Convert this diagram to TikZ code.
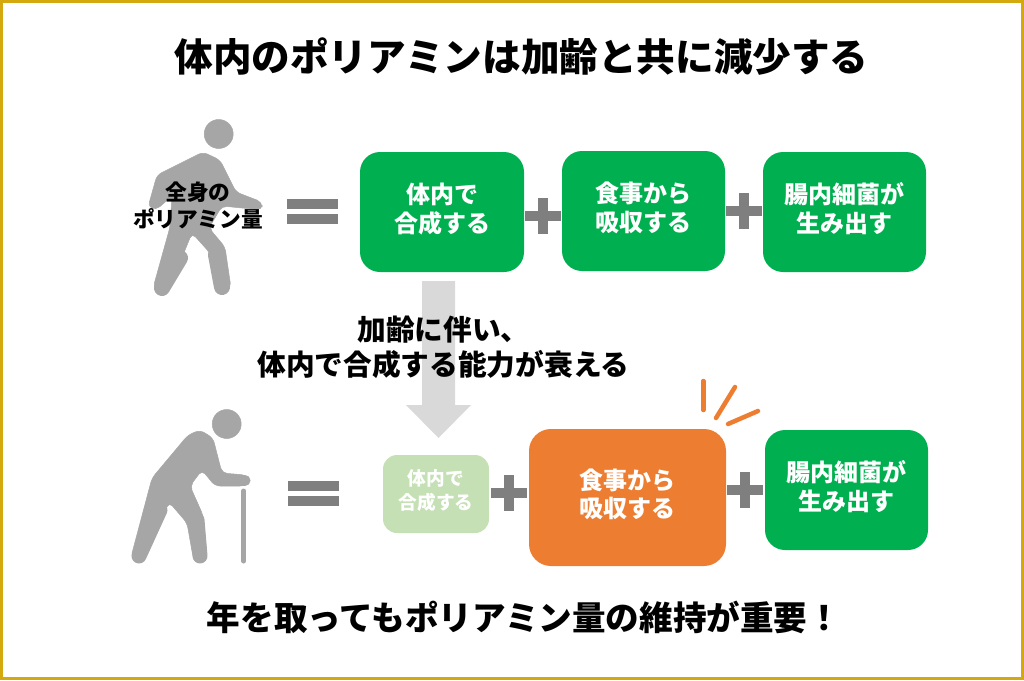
\documentclass[tikz,border=0pt]{standalone}
\usepackage{fontspec}
\newfontfamily\jp{Noto Sans CJK JP}
\definecolor{mangray}{HTML}{A6A6A6}
\definecolor{symgray}{HTML}{7F7F7F}
\definecolor{boxgreen}{HTML}{00B050}
\definecolor{palegreen}{HTML}{C5E0B4}
\definecolor{burst}{HTML}{ED7D31}
\definecolor{gold}{HTML}{D4A80F}
\definecolor{arrowgray}{HTML}{D9D9D9}
\newcommand{\lift}{\rule[-9pt]{0pt}{1pt}}
\tikzset{
  x=1pt,y=-1pt,
  box/.style={rounded corners=#1,inner sep=0pt,align=center,text=white,font=\jp\bfseries\fontsize{24}{28.5}\selectfont},
  txt/.style 2 args={inner sep=0pt,align=center,text=black,font=\jp\bfseries\fontsize{#1}{#2}\selectfont},
  man/.style={fill=mangray,draw=mangray,line width=0.5pt,line join=round},
  limb/.style={draw=mangray,line width=#1,line cap=round},
  sym/.style={fill=symgray,draw=none},
  spark/.style={draw=burst,line width=4.5pt,line cap=round}
}
\newcommand{\eqsign}[2]{\fill[sym] (#1,#2) rectangle ++(51,10); \fill[sym] (#1,#2+15) rectangle ++(51,10);}
\newcommand{\plussign}[2]{\fill[sym] (#1-18,#2-5) rectangle (#1+18,#2+5); \fill[sym] (#1-5,#2-18) rectangle (#1+5,#2+18);}
\begin{document}
\begin{tikzpicture}
\useasboundingbox (0,0) rectangle (1024,680);
\draw[gold,line width=3pt] (1.5,1.5) rectangle (1022.5,678.5);
\node[txt={38.6}{48}] (title) at (521.5,57) {体内のポリアミンは加齢と共に減少する};
% walking person
\fill[man] (218.7,134) circle (14.5);
\filldraw[man,rounded corners=5pt] (203,152) -- (220,160) -- (236,192) -- (262,202) -- (262,210) -- (222,206) -- (209,228) -- (225,247) -- (231,288) -- (220,296) -- (210,253) -- (192,233) -- (170,287) -- (160,296) -- (153,288) -- (170,227) -- (172,196) -- (156,210) -- (148,207) -- (157,175) -- cycle;
\draw[limb=16pt] (180,258) -- (162,288);
\draw[limb=16pt] (216,255) -- (222,287);
\node[txt={21.7}{27.5}] (whole) at (198,205.5) {全身の\\ポリアミン量};
\eqsign{286.5}{199}
\node[box=20pt,fill=boxgreen,minimum width=164pt,minimum height=120pt] (a1) at (442,212) {体内で\\合成する\lift};
\plussign{543}{216}
\node[box=20pt,fill=boxgreen,minimum width=163pt,minimum height=120pt] (a2) at (643.5,211) {食事から\\吸収する\lift};
\plussign{744}{211}
\node[box=20pt,fill=boxgreen,minimum width=163pt,minimum height=120pt] (a3) at (844.5,212) {腸内細菌が\\生み出す\lift};
% big arrow
\fill[arrowgray] (422,281) -- (455,281) -- (455,405) -- (471,405) -- (438.5,438) -- (406,405) -- (422,405) -- cycle;
\node[txt={28.7}{35}] (lab) at (443.5,347) {加齢に伴い、\\体内で合成する能力が衰える};
% elderly person
\fill[man] (226.7,424) circle (14.5);
\filldraw[man,rounded corners=5pt] (200,430) -- (213,438) -- (222,473) -- (246,475) -- (250,480) -- (245,486) -- (215,486) -- (202,470) -- (190,486) -- (203,515) -- (207,556) -- (200,564) -- (193,557) -- (187,523) -- (169,502) -- (145,559) -- (137,564) -- (131,557) -- (152,478) -- (188,435) -- cycle;
\draw[limb=15pt] (160,510) -- (139,556);
\draw[limb=15pt] (197,520) -- (200,556);
\draw[limb=11pt] (220,480.5) -- (245,480.5);
\draw[mangray,line width=5pt,line cap=round] (243.7,491) -- (243.7,561);
\eqsign{288}{481}
\node[box=14pt,fill=palegreen,minimum width=106pt,minimum height=78pt,font=\jp\bfseries\fontsize{18.7}{24}\selectfont] (b1) at (436,494) {体内で\\合成する\lift};
\plussign{509}{493}
\node[box=22pt,fill=burst,minimum width=197pt,minimum height=137pt] (b2) at (627.5,497.5) {食事から\\吸収する\lift};
\plussign{745}{490}
\node[box=20pt,fill=boxgreen,minimum width=163pt,minimum height=120pt] (b3) at (846.5,490) {腸内細菌が\\生み出す\lift};
\draw[spark] (703.3,381) -- (703.3,410);
\draw[spark] (735,387) -- (716,418);
\draw[spark] (758,411) -- (728,424);
\node[txt={33.6}{42}] (foot) at (524,617) {年を取ってもポリアミン量の維持が重要！};
\end{tikzpicture}
\end{document}
